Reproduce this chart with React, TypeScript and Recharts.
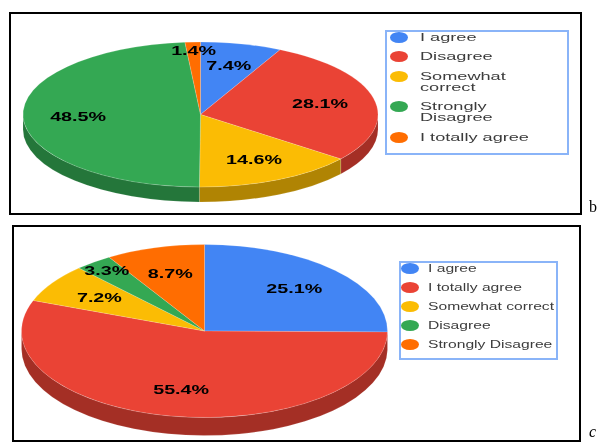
import React from 'react';
import { PieChart, Pie, Legend } from 'recharts';

const namesB = ['I agree', 'Disagree', 'Somewhat correct', 'Strongly Disagree', 'I totally agree'];
const valuesB = [7.4, 28.1, 14.6, 48.5, 1.4];
const namesC = ['I agree', 'I totally agree', 'Somewhat correct', 'Disagree', 'Strongly Disagree'];
const valuesC = [25.1, 55.4, 7.2, 3.3, 8.7];
const colors = ['#4285F4', '#EA4335', '#FBBC04', '#34A853', '#FF6D01'];

const toRows = (names: string[], values: number[]) =>
  names.map((name, i) => ({ name, value: values[i], fill: colors[i] }));

const darken = (hex: string) => {
  const n = parseInt(hex.slice(1), 16);
  const part = (v: number) => Math.round(v * 0.7);
  return `rgb(${part(n >> 16)},${part((n >> 8) & 255)},${part(n & 255)})`;
};

const RAD = Math.PI / 180;

// flattened pie: rx comes from the Pie outerRadius, ry and depth from the panel
function makeSlice(ry: number, depth: number) {
  return function Slice(props: any) {
    const { cx, cy, outerRadius: rx, startAngle, endAngle, fill } = props;
    const px = (a: number) => cx + rx * Math.cos(a * RAD);
    const py = (a: number) => cy - ry * Math.sin(a * RAD);
    const large = Math.abs(startAngle - endAngle) > 180 ? 1 : 0;
    const top = `M${cx},${cy} L${px(startAngle)},${py(startAngle)} A${rx},${ry} 0 ${large} 1 ${px(endAngle)},${py(endAngle)} Z`;
    const from = Math.min(startAngle, 0);
    const to = Math.max(endAngle, -180);
    return (
      <g>
        {from > to && (
          <path
            d={`M${px(from)},${py(from)} A${rx},${ry} 0 0 1 ${px(to)},${py(to)} L${px(to)},${py(to) + depth} A${rx},${ry} 0 0 0 ${px(from)},${py(from) + depth} Z`}
            fill={darken(fill)}
            stroke="rgba(255,255,255,0.25)"
            strokeWidth={0.5}
          />
        )}
        <path d={top} fill={fill} stroke="rgba(255,255,255,0.35)" strokeWidth={0.5} />
      </g>
    );
  };
}

function makeLabel(ry: number) {
  return function SliceLabel(props: any) {
    const { cx, cy, outerRadius: rx, midAngle, value } = props;
    // narrow slices get their label pushed towards the rim
    const f = value < 4 ? 0.88 : 0.69;
    const x = cx + rx * f * Math.cos(midAngle * RAD);
    const y = cy - ry * f * Math.sin(midAngle * RAD);
    return (
      <text
        transform={`translate(${x} ${y}) scale(1.58 1)`}
        textAnchor="middle"
        dominantBaseline="central"
        fontFamily="Liberation Sans"
        fontWeight="bold"
        fontSize={12.5}
        fill="#000"
      >
        {value.toFixed(1)}%
      </text>
    );
  };
}

function makeLegend(o: any) {
  return function PanelLegend({ payload }: any) {
    return (
      <div
        style={{
          boxSizing: 'border-box',
          width: '100%',
          height: '100%',
          border: '2px solid #8ab4f8',
          fontFamily: 'Liberation Sans',
          color: '#3c3c3c',
          fontSize: o.fontSize,
          lineHeight: '11px',
        }}
      >
        {(payload || []).map((item: any) => (
          <div key={item.value} style={{ position: 'relative', marginBottom: o.gap, paddingLeft: o.textLeft }}>
            <span
              style={{
                position: 'absolute',
                left: o.markLeft,
                top: 0,
                width: 18,
                height: 11,
                borderRadius: '50%',
                background: item.color,
              }}
            />
            <div style={{ width: o.textWidth, transform: `scaleX(${o.stretch})`, transformOrigin: 'left top' }}>
              {item.value}
            </div>
          </div>
        ))}
      </div>
    );
  };
}

function Panel({ frame, rows, center, rx, ry, depth, legend }: any) {
  const Slice = makeSlice(ry, depth);
  return (
    <div
      style={{
        position: 'absolute',
        boxSizing: 'border-box',
        left: frame.left,
        top: frame.top,
        width: frame.width,
        height: frame.height,
        border: '2.5px solid #000',
      }}
    >
      <div style={{ position: 'absolute', left: -2.5, top: -2.5 }}>
        <PieChart width={frame.width} height={frame.height} margin={{ top: 0, right: 0, bottom: 0, left: 0 }}>
          <Pie
            data={rows}
            dataKey="value"
            nameKey="name"
            cx={center.x - frame.left}
            cy={center.y - frame.top}
            outerRadius={rx}
            startAngle={90}
            endAngle={-270}
            shape={Slice}
            label={makeLabel(ry)}
            labelLine={false}
            stroke="none"
            isAnimationActive={false}
          />
          <Legend
            layout="vertical"
            align="right"
            verticalAlign="middle"
            itemSorter={null}
            content={makeLegend(legend)}
            wrapperStyle={{
              left: legend.left - frame.left,
              top: legend.top - frame.top,
              right: 'auto',
              bottom: 'auto',
              width: legend.width,
              height: legend.height,
            }}
          />
        </PieChart>
      </div>
    </div>
  );
}

export default function App() {
  return (
    <div style={{ position: 'absolute', left: 0, top: 0, width: 597, height: 443, overflow: 'hidden', filter: 'blur(0.35px)' }}>
      <Panel
        frame={{ left: 9, top: 12, width: 573, height: 203 }}
        rows={toRows(namesB, valuesB)}
        center={{ x: 200.5, y: 114.5 }}
        rx={177.5}
        ry={72.5}
        depth={15}
        legend={{
          left: 385,
          top: 30,
          width: 184,
          height: 125,
          gap: 8.5,
          fontSize: 11,
          stretch: 1.65,
          textLeft: 33,
          markLeft: 3,
          textWidth: 75,
        }}
      />
      <Panel
        frame={{ left: 12, top: 225, width: 569, height: 217 }}
        rows={toRows(namesC, valuesC)}
        center={{ x: 204.5, y: 331 }}
        rx={183}
        ry={86.5}
        depth={18}
        legend={{
          left: 399,
          top: 261,
          width: 159,
          height: 99,
          gap: 8,
          fontSize: 11.5,
          stretch: 1.36,
          textLeft: 27,
          markLeft: 0,
          textWidth: 110,
        }}
      />
      <div style={{ position: 'absolute', left: 589, top: 198, fontFamily: 'Liberation Serif', fontSize: 16 }}>b</div>
      <div style={{ position: 'absolute', left: 589, top: 423, fontFamily: 'Liberation Serif', fontStyle: 'italic', fontSize: 16 }}>c</div>
    </div>
  );
}
